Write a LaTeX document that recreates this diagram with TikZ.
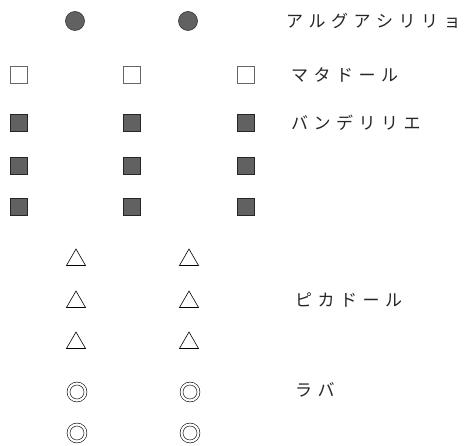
\documentclass[tikz,border=0pt]{standalone}
\usepackage{fontspec}
\newfontfamily\cjk{Noto Sans CJK JP}
\usetikzlibrary{shapes.geometric}
\newcommand\gk{\hspace{5.5pt}}
\tikzset{
  dot/.style={circle,draw=black!80,fill=black!62,minimum size=19pt,inner sep=0pt,line width=0.6pt},
  esq/.style={rectangle,draw=black!60,fill=white,minimum size=17pt,inner sep=0pt,line width=0.6pt},
  fsq/.style={rectangle,draw=black!85,fill=black!62,minimum size=17pt,inner sep=0pt,line width=0.6pt},
  tri/.style={regular polygon,regular polygon sides=3,draw=black,minimum size=22pt,inner sep=0pt,line width=0.6pt},
  dbl/.style={circle,draw=black,double=white,double distance=2.2pt,line width=0.6pt,minimum size=17pt,inner sep=0pt},
  lab/.style={anchor=west,inner sep=0pt,font=\cjk\fontsize{17pt}{17pt}\selectfont,text=black!85}
}
\begin{document}
\begin{tikzpicture}[x=1pt,y=-1pt]
\useasboundingbox (0,0) rectangle (468,446);
% row 1
\node[dot] (c1) at (75,21) {};
\node[dot] (c2) at (188,21) {};
\node[lab] (t1) at (286,21) {ア\gk ル\gk グ\gk ア\gk シ\gk リ\gk リ\gk ョ};
% row 2
\node[esq] (e1) at (19,75) {};
\node[esq] (e2) at (132,75) {};
\node[esq] (e3) at (246,75) {};
\node[lab] (t2) at (291,75) {マ\gk タ\gk ド\gk ー\gk ル};
% rows 3-5
\node[fsq] (f11) at (19,123) {};
\node[fsq] (f12) at (132,123) {};
\node[fsq] (f13) at (246,123) {};
\node[lab] (t3) at (291,123) {バ\gk ン\gk デ\gk リ\gk リ\gk エ};
\node[fsq] (f21) at (19,166) {};
\node[fsq] (f22) at (132,166) {};
\node[fsq] (f23) at (246,166) {};
\node[fsq] (f31) at (19,207) {};
\node[fsq] (f32) at (132,207) {};
\node[fsq] (f33) at (246,207) {};
% triangles
\node[tri] (a11) at (76,260) {};
\node[tri] (a12) at (189,260) {};
\node[tri] (a21) at (76,302) {};
\node[tri] (a22) at (189,302) {};
\node[tri] (a31) at (76,343) {};
\node[tri] (a32) at (189,343) {};
\node[lab] (t4) at (295,300) {ピ\gk カ\gk ド\gk ー\gk ル};
% double circles
\node[dbl] (d11) at (77,392) {};
\node[dbl] (d12) at (190,392) {};
\node[dbl] (d21) at (77,433) {};
\node[dbl] (d22) at (190,433) {};
\node[lab] (t5) at (295,390) {ラ\gk バ};
\end{tikzpicture}
\end{document}
